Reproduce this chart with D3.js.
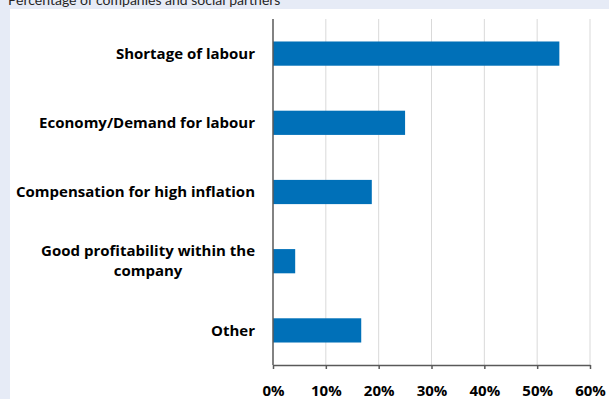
<!DOCTYPE html>
<html>
<head>
<meta charset="utf-8">
<script src="https://cdn.jsdelivr.net/npm/d3@7"></script>
<style>
  body { margin: 0; background: #e6ebf6; }
  svg { display: block; }
</style>
</head>
<body>
<div id="chart"></div>
<script>
// —————— DATA
var categories = ["Shortage of labour", "Economy/Demand for labour", "Compensation for high inflation",
                  "Good profitability within the company", "Other"];
var values = [54.2, 25.0, 18.7, 4.2, 16.7];
var tickValues = [0, 10, 20, 30, 40, 50, 60];
var title = "Percentage of companies and social partners";

var W = 609, H = 399;
var margin = {top: 19, right: 19, bottom: 34, left: 273};
var plotW = W - margin.left - margin.right,
    plotH = H - margin.top - margin.bottom;
var labelFont = "'Open Sans', sans-serif";

var svg = d3.select("#chart").append("svg")
    .attr("width", W).attr("height", H);

// background panel
svg.append("rect").attr("width", W).attr("height", H).attr("fill", "#e6ebf6");
svg.append("rect").attr("x", 10).attr("y", 9).attr("width", W - 10).attr("height", H - 9).attr("fill", "#ffffff");

svg.append("text")
    .attr("x", 8).attr("y", 5)
    .style("font-family", "Lato, 'Open Sans', sans-serif")
    .style("font-size", "14px")
    .attr("fill", "#262626")
    .text(title);

var g = svg.append("g").attr("transform", "translate(" + margin.left + "," + margin.top + ")");

var x = d3.scaleLinear().domain([0, 60]).range([0, plotW]);
var y = d3.scaleBand().domain(categories).range([0, plotH]).paddingInner(0.65).paddingOuter(0.325);

// gridlines
g.selectAll(".grid").data(tickValues.slice(1)).enter().append("line")
    .attr("x1", d => x(d)).attr("x2", d => x(d))
    .attr("y1", 0).attr("y2", plotH)
    .attr("stroke", "#d9d9d9").attr("stroke-width", 1);

// bars
g.selectAll(".bar").data(values).enter().append("rect")
    .attr("x", x(0))
    .attr("y", (d, i) => y(categories[i]))
    .attr("width", d => x(d) - x(0))
    .attr("height", y.bandwidth())
    .attr("fill", "#0070b8");

// x axis
var xAxis = g.append("g")
    .attr("transform", "translate(0," + plotH + ")")
    .call(d3.axisBottom(x).tickValues(tickValues).tickSize(4).tickSizeOuter(0).tickPadding(16)
          .tickFormat(d => d + "%"));
xAxis.select(".domain").attr("stroke", "#595959").attr("stroke-width", 1.5);
xAxis.selectAll(".tick line").attr("stroke", "#595959").attr("stroke-width", 1.5);
xAxis.selectAll(".tick text")
    .style("font-family", labelFont)
    .style("font-size", "15px").style("font-weight", "bold")
    .attr("fill", "#000");

// y axis line
g.append("line").attr("x1", 0).attr("x2", 0).attr("y1", 0).attr("y2", plotH)
    .attr("stroke", "#595959").attr("stroke-width", 1.5);

// category labels, wrapped and centred like Excel
var labelRight = -18, maxW = 245, lineH = 20;
categories.forEach(function(c) {
  var t = g.append("text")
      .style("font-family", labelFont)
      .style("font-size", "15px").style("font-weight", "bold")
      .attr("fill", "#000");
  var words = c.split(" "), lines = [], cur = [];
  var probe = t.append("tspan");
  words.forEach(function(w) {
    cur.push(w);
    probe.text(cur.join(" "));
    if (probe.node().getComputedTextLength() > maxW && cur.length > 1) {
      cur.pop(); lines.push(cur.join(" ")); cur = [w];
    }
  });
  lines.push(cur.join(" "));
  probe.remove();
  var widths = lines.map(function(l) {
    var s = t.append("tspan").text(l); var w = s.node().getComputedTextLength(); s.remove(); return w;
  });
  var cx = labelRight - d3.max(widths) / 2;
  var yc = y(c) + y.bandwidth() / 2 - (lines.length - 1) * lineH / 2;
  lines.forEach(function(l, i) {
    t.append("tspan").attr("x", cx).attr("y", yc + i * lineH).attr("dy", "0.35em")
      .attr("text-anchor", "middle").text(l);
  });
});
</script>
</body>
</html>
